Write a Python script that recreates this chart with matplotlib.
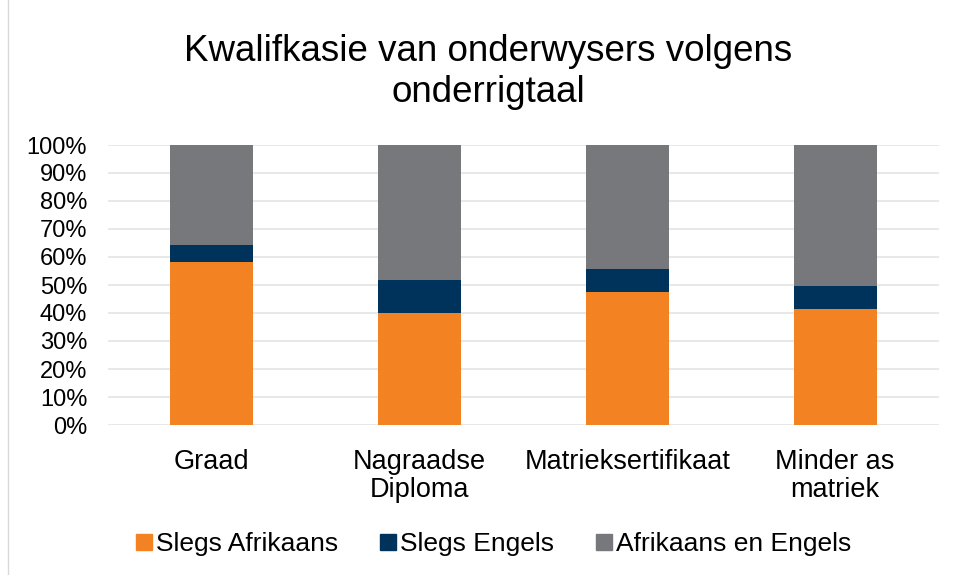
import matplotlib.pyplot as plt
import numpy as np
from matplotlib.lines import Line2D

plt.rcParams['font.family'] = ['Liberation Sans', 'DejaVu Sans']

categories = ['Graad', 'Nagraadse\nDiploma', 'Matrieksertifikaat', 'Minder as\nmatriek']
slegs_afrikaans = [58.3, 40.1, 47.6, 41.4]
slegs_engels = [6.0, 11.6, 8.2, 8.4]
afr_en_engels = [35.7, 48.3, 44.2, 50.2]
series_names = ['Slegs Afrikaans', 'Slegs Engels', 'Afrikaans en Engels']
colors = ['#F38223', '#00335C', '#77787B']

fig = plt.figure(figsize=(9.56, 5.75), dpi=100)
ax = fig.add_axes([108 / 956, 1 - 425 / 575, (939 - 108) / 956, (425 - 145) / 575])

x = np.arange(len(categories))
bottom = np.zeros(len(categories))
for vals, col, name in zip([slegs_afrikaans, slegs_engels, afr_en_engels], colors, series_names):
    ax.bar(x, vals, width=0.4, bottom=bottom, color=col, label=name, zorder=2)
    bottom += np.array(vals)

ax.set_xlim(-0.5, len(categories) - 0.5)
ax.set_ylim(0, 100)
ax.set_yticks(range(0, 101, 10))
ax.set_yticklabels([f'{v}%' for v in range(0, 101, 10)], fontsize=17)
ax.set_xticks(x)
ax.set_xticklabels(categories, fontsize=19.5, linespacing=1.12)
ax.tick_params(axis='y', length=0, pad=15)
ax.tick_params(axis='x', length=0, pad=17)
ax.yaxis.grid(True, color='#E6E6E6', linewidth=1.3, zorder=0)
for s in ax.spines.values():
    s.set_visible(False)

fig.text(488 / 956, 1 - 72 / 575, 'Kwalifkasie van onderwysers volgens\nonderrigtaal',
         fontsize=26.5, ha='center', va='center', linespacing=1.22)

handles = [Line2D([], [], marker='s', linestyle='none', markersize=12, color=c) for c in colors]
fig.legend(handles, series_names, loc='center', bbox_to_anchor=(492 / 956, 1 - 544 / 575),
           ncol=3, frameon=False, fontsize=19, handletextpad=0.05, columnspacing=1.5,
           handlelength=0.8)

# faint chart border on the left
fig.add_artist(Line2D([8 / 956, 8 / 956], [0, 1], color='#D9D9D9', linewidth=1))

fig.savefig('out.png', dpi=100)
